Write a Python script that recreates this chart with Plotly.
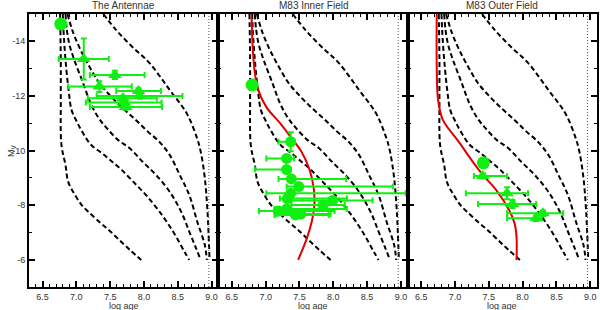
import plotly.graph_objects as go
from plotly.subplots import make_subplots

panel_titles = ["The Antennae", "M83 Inner Field", "M83 Outer Field"]

# dashed model tracks (same in every panel): log age vs M_V
track_a_age = [6.76, 6.77, 6.77, 6.78, 6.84, 6.88, 6.98, 7.08, 7.18, 7.36, 7.48, 7.62, 7.79, 7.96]
track_a_mv = [-15.0, -13.32, -11.85, -10.20, -9.47, -8.85, -8.37, -8.00, -7.75, -7.34, -7.09, -6.76, -6.36, -5.99]
track_b_age = [6.80, 6.81, 6.84, 6.89, 6.93, 7.01, 7.10, 7.22, 7.38, 7.53, 7.67, 7.84, 8.03, 8.23, 8.43, 8.60, 8.67]
track_b_mv = [-15.0, -14.41, -13.32, -12.11, -11.48, -11.04, -10.63, -10.20, -9.90, -9.59, -9.29, -8.86, -8.37, -7.76, -7.03, -6.29, -5.99]
track_c_age = [6.84, 6.86, 6.90, 6.97, 7.10, 7.21, 7.33, 7.45, 7.62, 7.79, 7.98, 8.18, 8.38, 8.55, 8.67, 8.77, 8.84]
track_c_mv = [-15.0, -14.41, -13.86, -13.32, -12.47, -11.74, -11.19, -10.82, -10.38, -10.08, -9.59, -9.10, -8.49, -7.76, -7.03, -6.42, -5.99]
track_d_age = [6.87, 6.94, 7.05, 7.18, 7.34, 7.52, 7.70, 7.88, 8.05, 8.23, 8.38, 8.53, 8.67, 8.79, 8.90, 8.93]
track_d_mv = [-15.0, -14.41, -13.75, -13.13, -12.47, -11.96, -11.52, -11.12, -10.71, -10.31, -9.84, -9.10, -8.37, -7.38, -6.54, -5.99]
track_e_age = [7.40, 7.59, 7.83, 8.08, 8.38, 8.63, 8.78, 8.84, 8.90, 8.94, 8.97]
track_e_mv = [-15.0, -14.41, -13.79, -13.21, -12.22, -11.37, -10.49, -9.95, -8.99, -7.75, -5.99]
age_limit = 8.96

# red model curves (M83 fields)
inner_model_age = [6.79, 6.81, 6.84, 6.89, 7.01, 7.21, 7.38, 7.53, 7.65, 7.71, 7.72, 7.68, 7.61, 7.48]
inner_model_mv = [-15.0, -13.68, -12.84, -12.22, -11.59, -11.01, -10.46, -9.95, -9.29, -8.63, -8.00, -7.38, -6.79, -5.99]
outer_model_age = [6.73, 6.73, 6.75, 6.82, 6.92, 7.07, 7.19, 7.33, 7.45, 7.61, 7.80, 7.88, 7.91, 7.91]
outer_model_mv = [-15.0, -13.06, -11.85, -11.12, -10.75, -10.27, -9.84, -9.36, -9.00, -8.55, -7.82, -7.34, -6.83, -5.99]

# brightest clusters (triangles / circles with error bars)
ant_age = [7.11, 7.57, 7.34, 7.92, 7.94, 7.69, 7.71, 7.73]
ant_mv = [-13.35, -12.77, -12.34, -12.18, -12.00, -11.91, -11.76, -11.59]
ant_age_lo = [6.74, 7.20, 6.88, 7.59, 7.30, 7.17, 7.14, 7.20]
ant_age_hi = [7.48, 8.01, 7.82, 8.25, 8.57, 8.19, 8.26, 8.27]
ant_mv_err = [0.75, 0.15, 0.2, 0.1, 0.1, 0.1, 0.1, 0.1]
ant_top_age = [6.77]
ant_top_mv = [-14.63]

inner_age = [7.37, 7.31, 7.31, 7.38, 7.49, 7.37, 7.32, 7.85, 7.99, 7.19, 7.31, 7.44, 7.52]
inner_mv = [-10.32, -9.71, -9.30, -8.96, -8.68, -8.43, -8.24, -8.00, -8.17, -7.78, -7.86, -7.64, -7.67]
inner_age_lo = [7.19, 7.01, 6.84, 7.19, 7.31, 7.01, 7.21, 7.38, 7.38, 6.90, 7.13, 7.13, 7.16]
inner_age_hi = [7.43, 7.42, 7.37, 8.19, 8.88, 9.07, 8.20, 8.17, 8.58, 8.02, 8.20, 7.93, 7.96]
inner_mv_err = [0.35, 0.1, 0.1, 0.1, 0.1, 0.1, 0.1, 0.1, 0.1, 0.1, 0.1, 0.1, 0.1]
inner_top_age = [6.80]
inner_top_mv = [-12.40]

outer_age = [7.41, 7.77, 7.85, 8.30, 8.20]
outer_mv = [-9.07, -8.43, -8.04, -7.70, -7.52]
outer_age_lo = [7.28, 7.16, 7.34, 7.77, 7.77]
outer_age_hi = [7.77, 8.08, 8.20, 8.60, 8.28]
outer_mv_err = [0.1, 0.22, 0.15, 0.1, 0.1]
outer_top_age = [7.42]
outer_top_mv = [-9.55]

y_ticks = [-14, -12, -10, -8, -6]
y_ticktext = ["-14", "-12", "-10", "-8", "-6"]

GREEN = "#11ee11"
FONT = "Liberation Sans"
TEXT = "#333"

fig = make_subplots(rows=1, cols=3, shared_yaxes=True, horizontal_spacing=0)

tracks = [(track_a_age, track_a_mv), (track_b_age, track_b_mv), (track_c_age, track_c_mv),
          (track_d_age, track_d_mv), (track_e_age, track_e_mv)]

clusters = [
    (ant_age, ant_mv, ant_age_lo, ant_age_hi, ant_mv_err, "triangle-up", 12, ant_top_age, ant_top_mv),
    (inner_age, inner_mv, inner_age_lo, inner_age_hi, inner_mv_err, "circle", 11, inner_top_age, inner_top_mv),
    (outer_age, outer_mv, outer_age_lo, outer_age_hi, outer_mv_err, "triangle-up", 12, outer_top_age, outer_top_mv),
]
models = [None, (inner_model_age, inner_model_mv), (outer_model_age, outer_model_mv)]

for i in range(3):
    col = i + 1
    for ages, mags in tracks:
        fig.add_trace(go.Scatter(x=ages, y=mags, mode="lines", line=dict(color="black", width=2, dash="5px,3px"),
                                 line_shape="spline", showlegend=False, hoverinfo="skip"), row=1, col=col)
    fig.add_vline(x=age_limit, line=dict(color="#555", width=1, dash="1px,2px"), row=1, col=col)

    if models[i] is not None:
        fig.add_trace(go.Scatter(x=models[i][0], y=models[i][1], mode="lines", line=dict(color="#e00000", width=2),
                                 line_shape="spline", showlegend=False), row=1, col=col)

    age, mv, lo, hi, err, sym, size, top_age, top_mv = clusters[i]
    fig.add_trace(go.Scatter(
        x=age, y=mv, mode="markers",
        marker=dict(symbol=sym, size=size, color=GREEN),
        error_x=dict(type="data", symmetric=False, array=[h - a for h, a in zip(hi, age)],
                     arrayminus=[a - l for a, l in zip(age, lo)], color=GREEN, thickness=2, width=3),
        error_y=dict(type="data", array=err, color=GREEN, thickness=2, width=3),
        showlegend=False), row=1, col=col)
    fig.add_trace(go.Scatter(x=top_age, y=top_mv, mode="markers",
                             marker=dict(symbol="circle", size=13, color=GREEN), showlegend=False), row=1, col=col)

    xdom = f"x{'' if col == 1 else col} domain"
    fig.add_annotation(text=panel_titles[i], x=0.5, y=1, xref=xdom, yref="y domain",
                       yanchor="bottom", yshift=1, showarrow=False,
                       font=dict(family=FONT, size=10, color=TEXT))
    fig.add_annotation(text="log age", x=0.5, y=0, xref=xdom, yref="y domain",
                       yanchor="middle", yshift=-19, showarrow=False,
                       font=dict(family=FONT, size=9, color=TEXT))

fig.add_annotation(text="M<sub>V</sub>", x=0, y=0.5, xref="paper", yref="y domain", xshift=-25,
                   textangle=-90, showarrow=False, font=dict(family=FONT, size=9, color=TEXT))

axis_common = dict(showline=True, linewidth=2, linecolor="black", mirror="allticks", ticks="inside",
                   tickcolor="black", tickwidth=1.5, showgrid=False, zeroline=False, automargin=False,
                   tickfont=dict(family=FONT, size=9, color=TEXT))

fig.update_xaxes(range=[6.3, 9.1], tick0=6.5, dtick=0.5, ticklen=6, tickformat=".1f",
                 minor=dict(ticks="inside", dtick=0.1, ticklen=3, tickcolor="black", tickwidth=1),
                 **axis_common)
fig.update_yaxes(range=[-5, -15], tickvals=y_ticks, ticktext=y_ticktext, ticklen=6,
                 minor=dict(ticks="inside", dtick=1, ticklen=3, tickcolor="black", tickwidth=1),
                 **axis_common)

fig.update_layout(width=600, height=310, margin=dict(l=29, r=3, t=14, b=23),
                  plot_bgcolor="white", paper_bgcolor="white", showlegend=False)

# drop the browser's default body margin so the figure sits at the page corner
fig.write_html("out.html", config={"displayModeBar": False},
               post_script="document.body.style.margin='0px';document.body.style.overflow='hidden';")
